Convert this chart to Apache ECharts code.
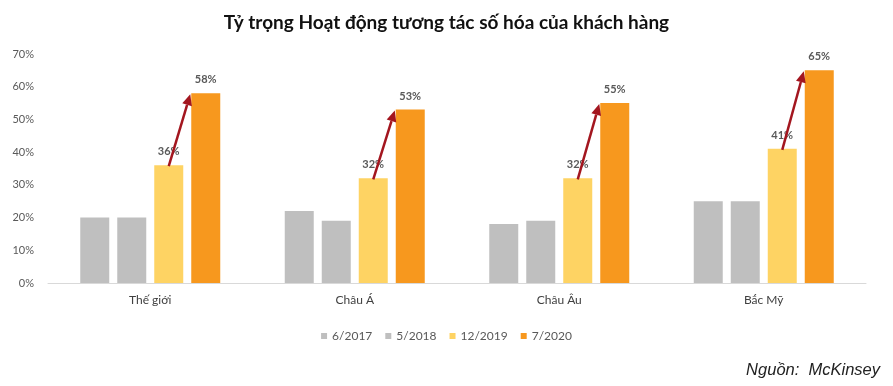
<!DOCTYPE html>
<html><head><meta charset="utf-8">
<script src="https://cdn.jsdelivr.net/npm/echarts@6/dist/echarts.min.js"></script>
<style>html,body{margin:0;padding:0;background:#fff}#c{width:893px;height:386px}</style>
</head><body><div id="c"></div>
<script>
const categories = ['Thế giới', 'Châu Á', 'Châu Âu', 'Bắc Mỹ'];
const seriesNames = ['6/2017', '5/2018', '12/2019', '7/2020'];
const v2017 = [20, 22, 18, 25];
const v2018 = [20, 19, 19, 25];
const v2019 = [36, 32, 32, 41];
const v2020 = [58, 53, 55, 65];
const yTicks = [0, 10, 20, 30, 40, 50, 60, 70];

const FONT = 'Lato';
const BW = 29, GAP = 8;
const colors = ['#BFBFBF', '#BFBFBF', '#FED363', '#F7981E'];
const chart = echarts.init(document.getElementById('c'));

function barSeries(i, data, showLabel) {
  return {
    name: seriesNames[i], type: 'bar', data: data, barWidth: BW, barGap: (GAP / BW * 100) + '%',
    itemStyle: { color: colors[i] },
    label: { show: showLabel, position: 'top', distance: 8, formatter: '{c}%',
      fontFamily: FONT, fontWeight: 'bold', fontSize: 11, color: '#595959' },
    z: 2
  };
}

const arrowData = categories.map((c, i) => [i, v2019[i], v2020[i]]);

chart.setOption({
  animation: false,
  textStyle: { fontFamily: FONT },
  title: [
    { text: 'Tỷ trọng Hoạt động tương tác số hóa của khách hàng', left: 'center', top: 8,
      textStyle: { fontFamily: FONT, fontWeight: 'bold', fontSize: 19, color: '#111' } },
    { text: 'Nguồn:  McKinsey', right: 8, top: 357,
      textStyle: { fontFamily: 'Liberation Sans', fontStyle: 'italic', fontWeight: 'normal', fontSize: 16.5, color: '#222' } }
  ],
  legend: {
    data: seriesNames, left: 'center', top: 325, itemWidth: 6, itemHeight: 6, itemGap: 13,
    icon: 'rect', textStyle: { fontFamily: FONT, fontSize: 12, color: '#595959' }
  },
  grid: { left: 48, right: 27, top: 54, bottom: 103, containLabel: false },
  xAxis: {
    type: 'category', data: categories,
    axisLine: { lineStyle: { color: '#D9D9D9', width: 1 } },
    axisTick: { show: false },
    axisLabel: { fontFamily: FONT, fontSize: 12, color: '#404040', margin: 11 }
  },
  yAxis: {
    type: 'value', min: yTicks[0], max: yTicks[yTicks.length - 1], interval: 10,
    splitLine: { show: false }, axisLine: { show: false }, axisTick: { show: false },
    axisLabel: { formatter: '{value}%', fontFamily: FONT, fontSize: 11, color: '#595959', margin: 14 }
  },
  series: [
    barSeries(0, v2017, false),
    barSeries(1, v2018, false),
    barSeries(2, v2019, true),
    barSeries(3, v2020, true),
    {
      type: 'custom', data: arrowData, z: 5, silent: true,
      encode: { x: 0, y: 1 },
      renderItem: function (params, api) {
        const c = api.value(0);
        const p1 = api.coord([c, api.value(1)]);
        const p2 = api.coord([c, api.value(2)]);
        const yellowOff = (BW + GAP) / 2;
        const orangeLeft = (BW + GAP) * 1.5 - BW / 2;
        const x1 = p1[0] + yellowOff, y1 = p1[1] + 1;
        const x2 = p2[0] + orangeLeft - 1, y2 = p2[1] + 1;
        const ang = Math.atan2(y2 - y1, x2 - x1);
        const L = 11, W = 5;
        const bx = x2 - L * Math.cos(ang), by = y2 - L * Math.sin(ang);
        const nx = -Math.sin(ang), ny = Math.cos(ang);
        return {
          type: 'group',
          children: [
            { type: 'line', shape: { x1: x1, y1: y1, x2: bx, y2: by },
              style: { stroke: '#A3161F', lineWidth: 2.5 } },
            { type: 'polygon', shape: { points: [[x2, y2], [bx + nx * W, by + ny * W], [bx - nx * W, by - ny * W]] },
              style: { fill: '#A3161F' } }
          ]
        };
      }
    }
  ]
});
</script></body></html>
